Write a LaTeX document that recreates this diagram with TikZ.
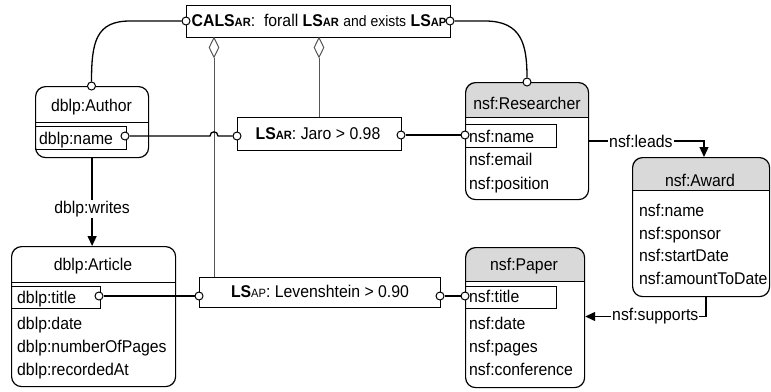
\documentclass[tikz,border=0pt]{standalone}
\usepackage{fontspec}
\setmainfont{Liberation Sans}[FakeStretch=0.93]
\usetikzlibrary{arrows.meta,shapes.geometric}
\definecolor{hdr}{RGB}{217,217,217}
\definecolor{thin}{RGB}{85,85,85}
\newcommand\sbb[1]{{\fontsize{12}{12}\selectfont\bfseries #1}}
\newcommand\sbr[1]{{\fontsize{12}{12}\selectfont #1}}
\begin{document}
\begin{tikzpicture}[x=1pt,y=-1pt,font=\fontsize{17}{20}\selectfont,
  entity/.style={draw,line width=1.2pt,rounded corners=10pt,inner sep=0,anchor=north west},
  hdrtext/.style={inner sep=0,anchor=base},
  attr/.style={inner sep=0,anchor=base west},
  keybox/.style={draw,line width=1pt,inner sep=0,anchor=north west},
  lsbox/.style={draw,line width=1pt,inner sep=0,anchor=north west},
  port/.style={circle,draw,fill=white,line width=1pt,inner sep=0,minimum size=8pt},
  conn/.style={line width=1.3pt},
  weak/.style={draw=thin,line width=1pt},
  ar/.style={-{Triangle[length=10pt,width=9pt]}},
  lbl/.style={fill=white,inner sep=1pt},
  dia/.style={diamond,draw=thin,fill=white,line width=1pt,inner sep=0,minimum width=10pt,minimum height=20pt,anchor=north}
]
\useasboundingbox (0,0) rectangle (771,391);

% ---------- headers (gray fills) ----------
\begin{scope}
  \clip[rounded corners=10pt] (465,82) rectangle (588,199);
  \fill[hdr] (465,82) rectangle (588,117);
\end{scope}
\begin{scope}
  \clip[rounded corners=10pt] (632,157) rectangle (769,296);
  \fill[hdr] (632,157) rectangle (769,190);
\end{scope}
\begin{scope}
  \clip[rounded corners=10pt] (465,247) rectangle (584,387);
  \fill[hdr] (465,247) rectangle (584,281);
\end{scope}

% ---------- entities ----------
\node[entity,minimum width=113pt,minimum height=71pt] (author) at (35,86) {};
\draw[line width=1pt] (35,122) -- (148,122);
\node[hdrtext] (authorH) at (91.5,111) {dblp:Author};
\node[keybox,minimum width=91pt,minimum height=23pt] (authorK) at (35,126) {};
\node[attr] (authorN) at (39,144) {dblp:name};

\node[entity,minimum width=164pt,minimum height=140pt] (article) at (11,246) {};
\draw[line width=1pt] (11,282) -- (175,282);
\node[hdrtext] (articleH) at (93,270) {dblp:Article};
\node[keybox,minimum width=89pt,minimum height=22pt] (articleK) at (11,286) {};
\node[attr] (articleT) at (17,303) {dblp:title};
\node[attr] (articleD) at (17,329) {dblp:date};
\node[attr] (articleP) at (17,352) {dblp:numberOfPages};
\node[attr] (articleR) at (17,375) {dblp:recordedAt};

\node[entity,minimum width=123pt,minimum height=117pt] (res) at (465,82) {};
\draw[line width=1pt] (465,117) -- (588,117);
\node[hdrtext] (resH) at (527,109) {nsf:Researcher};
\node[keybox,minimum width=91pt,minimum height=23pt] (resK) at (465,124) {};
\node[attr] (resN) at (469,142) {nsf:name};
\node[attr] (resE) at (469,165.5) {nsf:email};
\node[attr] (resP) at (469,189) {nsf:position};

\node[entity,minimum width=137pt,minimum height=139pt] (award) at (632,157) {};
\draw[line width=1pt] (632,190) -- (769,190);
\node[hdrtext] (awardH) at (700,186.5) {nsf:Award};
\node[attr] (awardN) at (639,216.5) {nsf:name};
\node[attr] (awardS) at (639,239) {nsf:sponsor};
\node[attr] (awardD) at (639,261.5) {nsf:startDate};
\node[attr] (awardA) at (639,284) {nsf:amountToDate};

\node[entity,minimum width=119pt,minimum height=140pt] (paper) at (465,247) {};
\draw[line width=1pt] (465,281) -- (584,281);
\node[hdrtext] (paperH) at (524,270) {nsf:Paper};
\node[keybox,minimum width=91pt,minimum height=22pt] (paperK) at (465,286) {};
\node[attr] (paperT) at (469,302) {nsf:title};
\node[attr] (paperD) at (469,329) {nsf:date};
\node[attr] (paperP) at (469,352) {nsf:pages};
\node[attr] (paperC) at (469,375) {nsf:conference};

% ---------- link specifications ----------
\node[lsbox,minimum width=264pt,minimum height=32pt] (cals) at (186,5) {};
\node[hdrtext] (calsT) at (319,26.7) {\textbf{CALS}\sbb{AR}:\ \ forall \textbf{LS}\sbb{AR} {\fontsize{15}{18}\selectfont and exists} \textbf{LS}\sbb{AP}};

\node[lsbox,minimum width=164pt,minimum height=33pt] (lsar) at (237,117) {};
\node[hdrtext] (lsarT) at (318,139.5) {\textbf{LS}\sbb{AR}: Jaro > 0.98};

\node[lsbox,minimum width=241pt,minimum height=30pt] (lsap) at (199,277) {};
\node[hdrtext] (lsapT) at (320,297.3) {\textbf{LS}\sbr{AP}: Levenshtein > 0.90};

% ---------- aggregation diamonds ----------
\node[dia] (dia1) at (214,37) {};
\node[dia] (dia2) at (319,37) {};
\draw[weak] (dia1.south) -- (dia1.south |- lsap.north);
\draw[weak] (dia2.south) -- (dia2.south |- lsar.north);

% ---------- ports ----------
\node[port] (calsL) at (186,21) {};
\node[port] (calsR) at (450,21) {};
\node[port] (authTop) at (91.5,86) {};
\node[port] (resTop) at (527,82) {};
\node[port] (authName) at (125,136) {};
\node[port] (lsarL) at (237,136) {};
\node[port] (lsarR) at (401,135) {};
\node[port] (resName) at (465,135) {};
\node[port] (artTitle) at (99,296) {};
\node[port] (lsapL) at (199,296) {};
\node[port] (lsapR) at (440,296) {};
\node[port] (papTitle) at (465,296) {};

% ---------- connectors ----------
\draw[conn] (calsL) -- (130,21) .. controls (96,21) and (91.5,42) .. (authTop);
\draw[conn] (calsR) -- (485,21) .. controls (522,21) and (527,45) .. (resTop);
\draw[conn] (authName) -- (210,136) .. controls (210,130.5) and (218,130.5) .. (218,136) -- (lsarL);
\draw[conn] (lsarR) -- (resName);
\draw[conn] (artTitle) -- (lsapL);
\draw[conn] (lsapR) -- (papTitle);

\draw[conn,ar] (author.south) -- node[lbl,pos=0.58] (writesL) {dblp:writes} (author.south |- article.north);

\coordinate (leadsBend) at (704,141);
\draw[conn,ar] (res.east |- leadsBend) -- node[lbl,pos=0.45] (leadsL) {nsf:leads} (leadsBend) -- (leadsBend |- award.north);

\coordinate (supBend) at (706,316.5);
\draw[conn,ar] (award.south -| supBend) -- (supBend) -- node[lbl,pos=0.42] (supL) {nsf:supports} (supBend -| paper.east);

\end{tikzpicture}
\end{document}
